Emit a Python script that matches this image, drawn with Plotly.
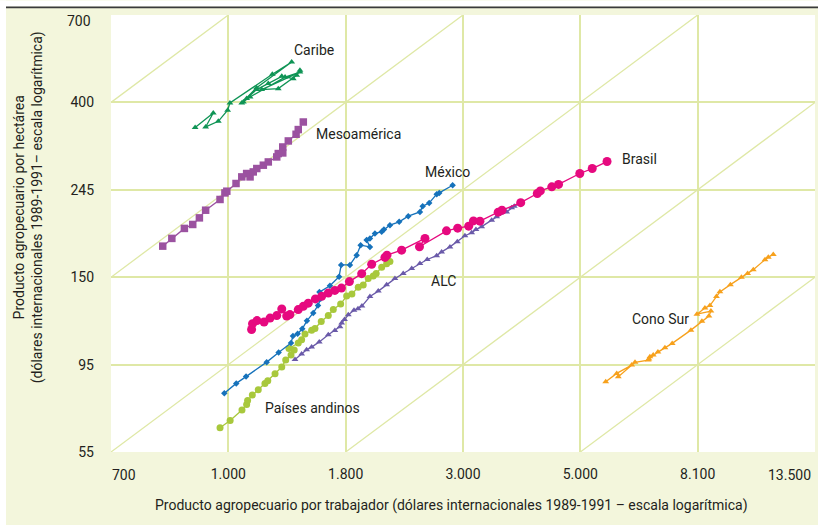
import math
import plotly.graph_objects as go

# ---------------- data ----------------
x_tick_labels = ["700", "1.000", "1.800", "3.000", "5.000", "8.100", "13.500"]
y_tick_labels = ["55", "95", "150", "245", "400", "700"]

caribe_x = [997, 1076, 1042, 1099, 1143, 1154, 1379, 1496, 1291, 1213, 1256, 1455,
            1549, 1319, 1414, 1528, 1549, 1506, 1435, 1356, 1291, 1238, 1221]
caribe_y = [363.5, 395.7, 364.8, 377, 402, 419.4, 495.6, 532.3, 458.6, 419.4, 434.3, 487.8,
            502.2, 453.4, 456, 492.7, 507.2, 483.3, 489.8, 469.5, 453.4, 430.3, 421.8]

meso_x = [870, 904, 953, 987, 1015, 1042, 1107, 1130, 1139, 1184, 1213, 1238, 1256,
          1273, 1292, 1328, 1356, 1405, 1414, 1441, 1441, 1475, 1524, 1538, 1571]
meso_y = [182.3, 190.7, 202.1, 206.8, 214.9, 224.7, 239.2, 248.5, 251, 262.5, 272.8, 278.2,
          272.8, 280.8, 286.4, 292, 297.6, 306.4, 312.5, 313.6, 324.7, 336.3, 349.6, 359.3, 375.5]

mex_x = [1127, 1185, 1235, 1347, 1416, 1492, 1504, 1534, 1564, 1595, 1638, 1671, 1690,
         1681, 1757, 1826, 1842, 1911, 1966, 1999, 2079, 2050, 2079, 2123, 2184, 2205,
         2261, 2351, 2442, 2565, 2595, 2667, 2752, 2782, 2943]
mex_y = [77.4, 82.0, 85.3, 92.8, 98.1, 103.8, 108.0, 109.4, 112.7, 118.0, 123.6, 129.0,
         134.3, 139.5, 144.7, 152.6, 163.4, 163.4, 173.0, 183.3, 181.5, 188.8, 190.7, 196.3,
         198.1, 200.7, 206.0, 210.0, 217.0, 222.5, 230.0, 234.5, 246.7, 248.5, 259.9]

bra_x = [1264, 1269, 1293, 1332, 1366, 1405, 1435, 1465, 1485, 1538, 1571, 1604, 1653,
         1697, 1745, 1794, 1844, 1907, 2008, 2094, 2214, 2233, 2375, 2620, 2560, 2868,
         3006, 3148, 3212, 3301, 3564, 3621, 3918, 4201, 4255, 4465, 4593, 5023, 5292, 5632]
bra_y = [112.2, 116.1, 118.2, 117.2, 119.9, 121.7, 126.4, 121.3, 122.4, 126.0, 128.4, 130.8,
         134.1, 136.1, 138.8, 140.9, 142.8, 148.3, 155.3, 164.1, 170.7, 173.0, 178.1, 190.7,
         181.6, 199.3, 202.4, 204.8, 211.1, 210.8, 222.2, 224.7, 234.8, 247.7, 251.4, 257.4,
         261.1, 278.2, 286.4, 298.3]

and_x = [1107, 1155, 1214, 1238, 1243, 1268, 1300, 1337, 1353, 1395, 1435, 1459, 1492,
         1512, 1479, 1538, 1560, 1582, 1627, 1650, 1694, 1745, 1782, 1838, 1885, 1927,
         1979, 2021, 2064, 2108, 2134, 2184, 2230, 2261]
and_y = [63.3, 66.1, 70.2, 72.5, 74.2, 76.6, 79.0, 82.0, 83.3, 86.7, 90.2, 93.9, 96.7,
         99.6, 100.5, 103.7, 105.7, 109.3, 111.8, 112.9, 117.5, 121.7, 126.0, 130.1, 136.3,
         137.9, 143.6, 145.3, 150.9, 153.1, 155.5, 161.3, 164.6, 166.6]

alc_x = [1517, 1560, 1593, 1627, 1680, 1745, 1794, 1833, 1846, 1868, 1898, 1944, 1977,
         2010, 2079, 2153, 2230, 2309, 2391, 2478, 2565, 2645, 2752, 2810, 2910, 3001,
         3099, 3188, 3246, 3325, 3468, 3541, 3693, 3772, 3813, 3914]
alc_y = [94.2, 97.3, 99.7, 101.3, 104.4, 108.9, 111.5, 114.1, 116.5, 118.9, 122.2, 125.6,
         126.7, 128.6, 136.0, 140.3, 145.5, 150.9, 155.5, 160.1, 164.8, 168.7, 172.5, 176.3,
         181.5, 186.9, 193.7, 197.1, 200.7, 204.2, 212.1, 216.2, 222.5, 227.8, 230.0, 234.1]

cs_x = [5601, 5866, 6248, 5905, 6335, 6697, 6744, 6839, 6716, 6975, 7184, 7407, 8013,
        8392, 8643, 8716, 8218, 8499, 8680, 8920, 9052, 9460, 9908, 10170, 10415, 10941,
        11094, 11329]
cs_y = [82.8, 86.9, 91.2, 85.2, 92.7, 93.9, 95.7, 96.7, 94.5, 98.4, 100.9, 103.5, 111.8,
        117.8, 121.3, 124.9, 122.7, 127.1, 129.0, 135.9, 139.7, 145.7, 152.2, 155.5, 159.0,
        168.5, 171.0, 173.7]

# ---------------- layout constants ----------------
W, H = 818, 526
L, R, T, B = 111, 3, 14.5, 74
PW, PH = W - L - R, H - T - B

X_MIN, X_MAX = 700, 13500
Y_MIN, Y_MAX = 55, 700
# gridlines are evenly spaced on the log axes
x_grid = [X_MIN * (X_MAX / X_MIN) ** (k / 6) for k in range(7)]
y_grid = [Y_MIN * (Y_MAX / Y_MIN) ** (k / 5) for k in range(6)]

GRID = "#dfe8a6"
CREAM = "#f3f6dc"
TXT = "#231f20"
FONT = "Roboto"


def px(xp):
    return (xp - L) / PW


def py(yp):
    return (H - B - yp) / PH


fig = go.Figure()

# diagonal reference lines (grid-cell diagonals)
diagonals = [((0, 0), (5, 5)), ((0, 2), (3, 5)), ((0, 4), (1, 5)),
             ((2, 0), (6, 4)), ((4, 0), (6, 2))]
for (i0, j0), (i1, j1) in diagonals:
    fig.add_trace(go.Scatter(x=[x_grid[i0], x_grid[i1]], y=[y_grid[j0], y_grid[j1]],
                             mode="lines", line=dict(color=GRID, width=1.3),
                             hoverinfo="skip", showlegend=False))

series = [
    ("Caribe", caribe_x, caribe_y, "#0f9455", "triangle-up", 6),
    ("Mesoamérica", meso_x, meso_y, "#9b52a0", "square", 7.5),
    ("Cono Sur", cs_x, cs_y, "#f7a11c", "triangle-up", 6),
    ("ALC", alc_x, alc_y, "#6a5aa9", "triangle-up", 6),
    ("Países andinos", and_x, and_y, "#a8c83c", "circle", 7),
    ("México", mex_x, mex_y, "#1672bb", "diamond", 5),
    ("Brasil", bra_x, bra_y, "#e6097f", "circle", 9),
]
for name, xs, ys, col, sym, size in series:
    fig.add_trace(go.Scatter(x=xs, y=ys, mode="lines+markers", name=name,
                             line=dict(color=col, width=1.3),
                             marker=dict(symbol=sym, size=size, color=col, line=dict(width=0)),
                             showlegend=False))

annotations = []
labels = [
    ("Caribe", 292, 50),
    ("Mesoamérica", 314, 134),
    ("México", 423, 172),
    ("Brasil", 620, 159),
    ("ALC", 429, 281),
    ("Países andinos", 263, 408),
    ("Cono Sur", 630, 319),
]
for txt, xp, yp in labels:
    annotations.append(dict(text=txt, x=px(xp), y=py(yp), xref="paper", yref="paper",
                            xanchor="left", yanchor="middle", showarrow=False,
                            font=dict(family=FONT, size=14, color=TXT)))

# end tick labels (shifted inward as in the reference)
annotations.append(dict(text=x_tick_labels[0], x=px(124), y=py(475), xref="paper", yref="paper",
                        xanchor="center", yanchor="middle", showarrow=False,
                        font=dict(family=FONT, size=14, color=TXT)))
annotations.append(dict(text=x_tick_labels[-1], x=px(789), y=py(475), xref="paper", yref="paper",
                        xanchor="center", yanchor="middle", showarrow=False,
                        font=dict(family=FONT, size=14, color=TXT)))
annotations.append(dict(text=y_tick_labels[-1], x=px(93), y=py(21), xref="paper", yref="paper",
                        xanchor="right", yanchor="middle", showarrow=False,
                        font=dict(family=FONT, size=14, color=TXT)))

# axis titles
annotations.append(dict(
    text="Producto agropecuario por trabajador (dólares internacionales 1989-1991 – escala logarítmica)",
    x=px(451.5), y=py(506), xref="paper", yref="paper", xanchor="center", yanchor="middle",
    showarrow=False, font=dict(family=FONT, size=14, color=TXT)))
annotations.append(dict(
    text="Producto agropecuario por hectárea<br>(dólares internacionales 1989-1991– escala logarítmica)",
    x=px(28), y=py(207), xref="paper", yref="paper", xanchor="center", yanchor="middle",
    textangle=-90, showarrow=False, align="center",
    font=dict(family=FONT, size=14, color=TXT)))

shapes = [
    # white strips around the cream frame
    dict(type="rect", xref="paper", yref="paper", x0=px(0), x1=px(6), y0=py(H), y1=py(0),
         fillcolor="white", line=dict(width=0)),
    dict(type="rect", xref="paper", yref="paper", x0=px(0), x1=px(W), y0=py(6), y1=py(0),
         fillcolor="white", line=dict(width=0)),
    dict(type="rect", xref="paper", yref="paper", x0=px(0), x1=px(W), y0=py(H), y1=py(525),
         fillcolor="white", line=dict(width=0)),
    # top rule
    dict(type="line", xref="paper", yref="paper", x0=px(6), x1=px(W), y0=py(6.9), y1=py(6.9),
         line=dict(color="#3a3a3a", width=1.6)),
]

fig.update_layout(
    width=W, height=H,
    margin=dict(l=L, r=R, t=T, b=B, pad=0),
    paper_bgcolor=CREAM, plot_bgcolor="white",
    font=dict(family=FONT, size=14, color=TXT),
    showlegend=False,
    annotations=annotations,
    shapes=shapes,
    xaxis=dict(type="log", range=[math.log10(X_MIN), math.log10(X_MAX)],
               tickmode="array", tickvals=x_grid,
               ticktext=[""] + x_tick_labels[1:-1] + [""],
               showgrid=True, gridcolor=GRID, gridwidth=1.5,
               zeroline=False, showline=False, ticks="",
               ticklabelstandoff=12, tickfont=dict(family=FONT, size=14, color=TXT)),
    yaxis=dict(type="log", range=[math.log10(Y_MIN), math.log10(Y_MAX)],
               tickmode="array", tickvals=y_grid,
               ticktext=y_tick_labels[:-1] + [""],
               showgrid=True, gridcolor=GRID, gridwidth=1.5,
               zeroline=False, showline=False, ticks="",
               ticklabelstandoff=16, tickfont=dict(family=FONT, size=14, color=TXT)),
)

fig.write_html("out.html", config={"displayModeBar": False},
               post_script="document.body.style.margin='0px';")
